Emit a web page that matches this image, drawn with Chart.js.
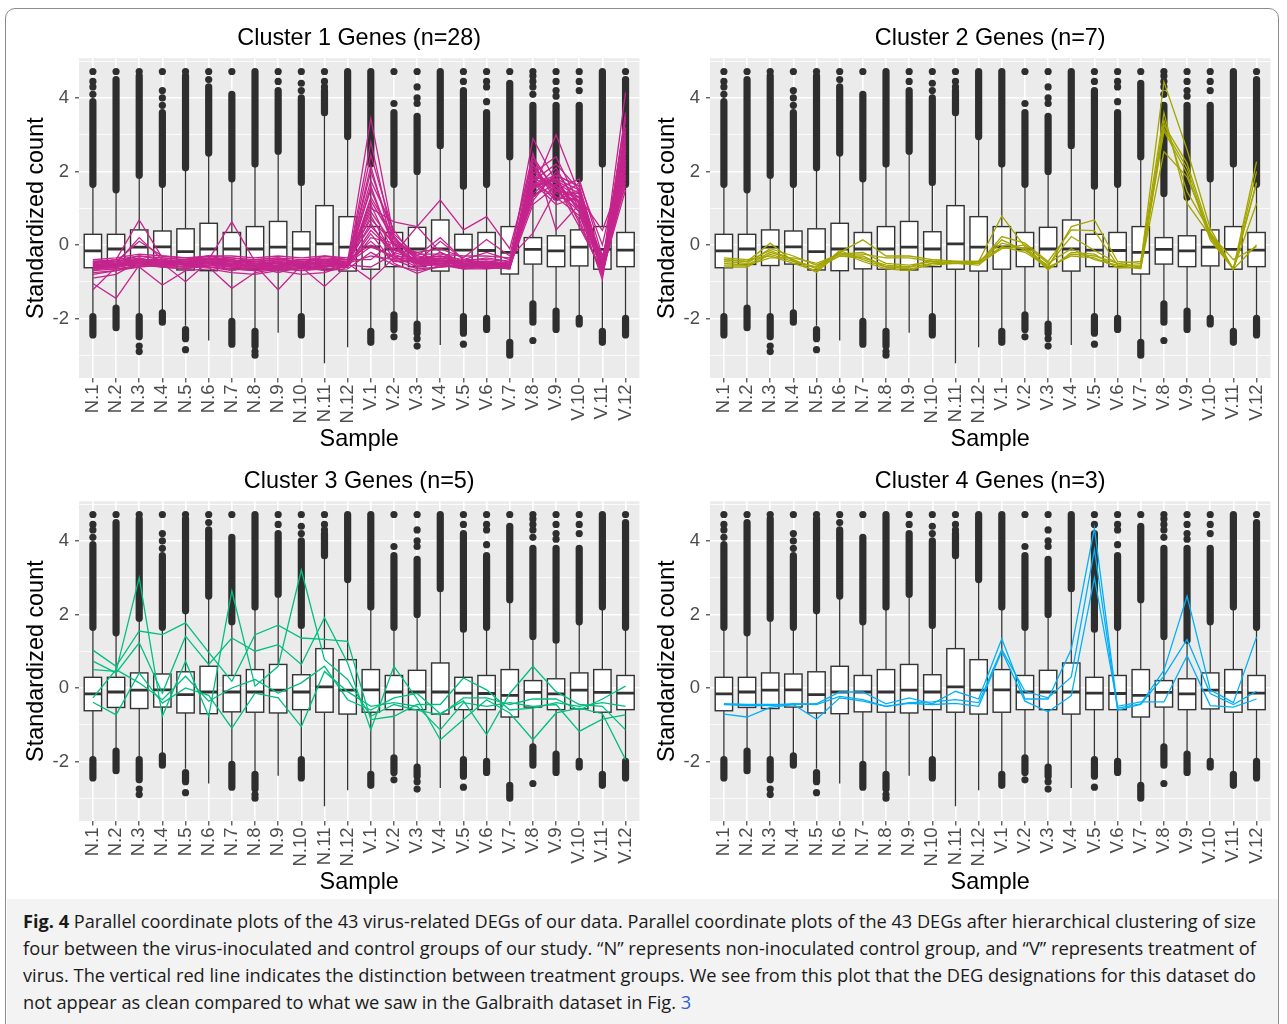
<!DOCTYPE html>
<html>
<head>
<meta charset="utf-8">
<script src="https://cdn.jsdelivr.net/npm/chart.js@4.4.1/dist/chart.umd.min.js"></script>
<style>
  html, body { margin: 0; padding: 0; background: #ffffff; }
  body { width: 1287px; height: 1024px; position: relative; overflow: hidden; }
  #frame { position: absolute; left: 5px; top: 8px; width: 1274px; height: 1100px;
           border: 1.5px solid #8c8c8c; border-radius: 10px; box-sizing: border-box; }
  #caption { position: absolute; left: 7px; top: 899px; width: 1271px; height: 130px; background: #f3f3f3; }
  .cap { position: absolute; left: 23px; white-space: nowrap; font-family: "Open Sans", sans-serif;
         font-size: 17.8px; line-height: 20px; color: #1a1a1a; transform-origin: 0 0; }
  .cap b { font-weight: 700; }
  .cap a { color: #2f5fd0; text-decoration: none; }
  canvas { position: absolute; }
</style>
</head>
<body>
<div id="frame"></div>
<div id="caption"></div>
<div class="cap" id="cap1" style="top:911.4px"><b>Fig. 4</b> Parallel coordinate plots of the 43 virus-related DEGs of our data. Parallel coordinate plots of the 43 DEGs after hierarchical clustering of size</div>
<div class="cap" id="cap2" style="top:938.1px">four between the virus-inoculated and control groups of our study. “N” represents non-inoculated control group, and “V” represents treatment of</div>
<div class="cap" id="cap3" style="top:964.8px">virus. The vertical red line indicates the distinction between treatment groups. We see from this plot that the DEG designations for this dataset do</div>
<div class="cap" id="cap4" style="top:991.5px">not appear as clean compared to what we saw in the Galbraith dataset in Fig. <a>3</a></div>

<script>
// ---- samples and axis breaks ----
const SAMPLES = ['N.1','N.2','N.3','N.4','N.5','N.6','N.7','N.8','N.9','N.10','N.11','N.12',
                 'V.1','V.2','V.3','V.4','V.5','V.6','V.7','V.8','V.9','V.10','V.11','V.12'];
const Y_BREAKS = [-3, -2, -1, 0, 1, 2, 3, 4, 5];   // even = labelled major, odd = minor
const Y_LIMITS = [-3.62, 5.08];

// ---- boxplot summaries of all genes per sample ----
const WHISKER_LOW  = [-1.90,-1.68,-1.90,-1.80,-2.20,-2.60,-2.05,-2.30,-2.39,-1.90,-3.22,-2.78,
                      -2.31,-1.86,-2.13,-2.72,-1.90,-1.95,-2.63,-1.55,-1.75,-1.95,-2.30,-1.95];
const Q1           = [-0.62,-0.53,-0.56,-0.52,-0.68,-0.70,-0.65,-0.66,-0.68,-0.59,-0.66,-0.71,
                      -0.66,-0.59,-0.59,-0.71,-0.59,-0.59,-0.79,-0.52,-0.59,-0.57,-0.66,-0.59];
const MEDIAN       = [-0.16,-0.11,-0.06,-0.05,-0.18,-0.11,-0.11,-0.11,-0.06,-0.11, 0.03,-0.06,
                      -0.05,-0.11,-0.11,-0.11,-0.14,-0.15,-0.20,-0.12,-0.16,-0.06,-0.12,-0.14];
const Q3           = [ 0.29, 0.29, 0.41, 0.38, 0.44, 0.59, 0.34, 0.50, 0.64, 0.36, 1.07, 0.77,
                       0.50, 0.34, 0.48, 0.68, 0.29, 0.34, 0.50, 0.20, 0.25, 0.41, 0.50, 0.34];
const WHISKER_HIGH = [ 1.59, 1.45, 1.86, 1.63, 2.09, 2.45, 1.77, 2.13, 2.54, 1.68, 3.54, 2.90,
                       2.18, 1.63, 2.00, 2.68, 1.54, 1.63, 2.36, 1.36, 1.27, 1.77, 2.13, 1.63];

// ---- outliers: densely packed runs and isolated points ----
const OUTLIER_HIGH_RUN = [[1.65,3.9],[1.5,4.5],[1.9,4.6],[1.65,3.6],[2.1,4.6],[2.5,4.3],[1.8,4.1],[2.2,4.72],
                          [2.55,4.2],[1.7,4.0],[3.6,4.2],[2.95,4.72],[2.2,4.72],[1.65,3.6],[2.0,3.5],[2.7,4.72],
                          [1.6,4.2],[1.65,3.6],[2.4,4.4],[1.4,3.8],[1.3,3.8],[1.8,3.8],[2.2,4.72],[1.65,4.5]];
const OUTLIER_HIGH_PTS = [[4.1,4.3,4.45,4.72],[4.72],[4.72],[3.8,4.0,4.2,4.72],[4.72],[4.5,4.72],[4.72],[],
                          [4.45,4.72],[4.2,4.4,4.72],[4.3,4.45,4.72],[],[],[3.85,4.72],[3.85,4.0,4.3,4.72],[],
                          [4.45,4.72],[3.9,4.3,4.45,4.72],[4.72],[4.1,4.3,4.45,4.6,4.72],[4.05,4.2,4.45,4.72],[4.2,4.45,4.72],[],[4.72]];
const OUTLIER_LOW_RUN  = [[-1.95,-2.45],[-1.72,-2.25],[-1.95,-2.5],[-1.85,-2.1],[-2.3,-2.55],null,[-2.08,-2.7],[-2.35,-2.75],
                          null,[-1.95,-2.45],null,null,[-2.35,-2.65],[-1.9,-2.3],[-2.15,-2.4],null,
                          [-1.95,-2.4],[-2.0,-2.3],[-2.65,-3.0],[-1.6,-2.1],[-1.8,-2.3],[-2.0,-2.15],[-2.35,-2.65],[-2.0,-2.45]];
const OUTLIER_LOW_PTS  = [[],[],[-2.75,-2.9],[],[-2.85],[],[],[-2.9,-3.0],
                          [],[],[],[],[],[-2.5],[-2.55,-2.75],[],
                          [-2.7],[],[],[-2.6],[],[],[],[]];

// ---- standardized counts of the clustered genes (N.1 ... N.12, V.1 ... V.12) ----
const CLUSTER1_GENES = [
  [-0.55,-0.50,-0.40,-0.45,-0.50,-0.40,-0.55,-0.60,-0.50,-0.55,-0.50,-0.45,  3.45, 0.20,-0.40,-0.30,-0.50,-0.50,-0.55, 1.80, 1.60, 1.20,-0.60, 4.15],
  [-0.60,-0.55,-0.45,-0.40,-0.55,-0.45,-0.50,-0.55,-0.60,-0.50,-0.55,-0.50,  2.45, 0.30,-0.30,-0.40,-0.45,-0.55,-0.50, 2.90, 1.70, 1.00,-0.70, 3.60],
  [-0.50,-0.45,-0.35,-0.50,-0.45,-0.35,-0.40,-0.50,-0.45,-0.60,-0.40,-0.55,  2.15,-0.10,-0.50,-0.20,-0.55,-0.45,-0.60, 1.50, 3.00, 1.40,-0.50, 3.40],
  [-0.65,-0.60,-0.50,-0.55,-0.60,-0.50,-0.60,-0.65,-0.55,-0.45,-0.60,-0.50,  1.75, 0.40,-0.45, 0.10,-0.40,-0.50,-0.55, 2.20, 1.20, 1.50,-0.80, 2.90],
  [-0.45,-0.40, 0.68,-0.35,-0.40,-0.30,-0.45,-0.40,-0.35,-0.40,-0.35,-0.40,  1.50, 0.00,-0.20,-0.45,-0.50,-0.60,-0.50, 1.95, 2.40, 1.10,-0.40, 2.60],
  [-0.70,-0.65,-0.55,-0.60,-0.65,-0.55,-0.65,-0.70,-0.65,-0.55,-0.65,-0.60,  1.30, 0.25,-0.55,-0.55,-0.60,-0.55,-0.65, 1.60, 1.80, 0.90,-0.95, 3.10],
  [-0.40,-0.45, 0.10,-0.30,-0.35,-0.40, 0.63,-0.45,-0.40,-0.45,-0.40,-0.45,  1.00, 0.63, 0.50, 1.22, 0.41, 0.77,-0.10, 2.30, 1.50, 1.30, 0.40, 2.10],
  [-0.80,-0.70,-0.60,-1.09,-0.70,-0.65,-0.75,-0.80,-0.70,-0.80,-0.75,-0.55,  0.80,-0.30,-0.60,-0.50,-0.65,-0.65,-0.55, 1.40, 1.90, 1.60,-0.55, 1.80],
  [-1.22,-0.60,-0.50,-0.50,-1.00,-0.45,-0.55,-0.50,-0.60,-0.65,-0.60,-0.50,  0.60,-0.40,-0.65,-0.60,-0.55,-0.50,-0.60, 1.70, 1.30, 0.80,-0.65, 2.30],
  [-1.05,-1.45,-0.55,-0.45,-0.55,-0.50,-0.60,-0.65,-0.55,-0.60,-1.13,-0.55,  0.40,-0.20,-0.40,-0.35,-0.45,-0.45,-0.50, 1.20, 2.00, 1.10,-0.45, 2.70],
  [-0.90,-0.80,-0.45,-0.60,-0.50,-0.60,-1.18,-0.75,-0.65,-0.70,-0.65,-0.60,  0.20, 0.05,-0.55,-0.45,-0.50,-0.60,-0.45, 1.90, 1.60, 0.70,-0.85, 1.90],
  [-0.55,-0.60,-0.50,-0.55,-0.60,-0.55,-0.50,-0.55,-1.22,-0.55,-0.50,-0.45,  0.10,-0.45,-0.45,-0.55,-0.60,-0.55,-0.55, 2.10, 1.40, 1.20,-0.60, 3.20],
  [-0.60,-0.55,-0.40,-0.45,-0.40,-0.35,-0.45,-0.60,-0.55,-0.50,-0.45,-0.50, -0.05,-0.30,-0.35,-0.30,-0.40,-0.40,-0.45, 1.60, 1.75, 1.40,-0.50, 2.50],
  [-0.75,-0.70,-0.55,-0.50,-0.55,-0.60,-0.70,-0.60,-0.75,-0.60,-0.70,-0.65, -0.20,-0.55,-0.70,-0.60,-0.55,-0.65,-0.60, 1.30, 1.90, 0.60,-0.75, 1.70],
  [-0.50,-0.45,-0.30,-0.40,-0.45,-0.40,-0.35,-0.45,-0.50,-0.40,-0.40,-0.40, -0.40, 0.10,-0.30, 0.20,-0.40,-0.20,-0.40, 1.80, 1.20, 1.70, 0.00, 2.80],
  [-0.65,-0.60,-0.45,-0.55,-0.50,-0.50,-0.55,-0.70,-0.60,-0.65,-0.55,-0.55, -0.60,-0.25,-0.50,-0.50,-0.65,-0.55,-0.60, 1.10, 1.60, 1.00,-0.60, 2.20],
  [-0.55,-0.50, 0.20,-0.40,-0.50,-0.45,-0.40,-0.55,-0.45,-0.55,-0.45,-0.50, -0.95,-0.35,-0.40,-0.45,-0.50,-0.50,-0.50, 1.70, 1.10, 1.30,-0.70, 2.40],
  [-0.45,-0.55,-0.35,-0.50,-0.45,-0.50,-0.50,-0.45,-0.40,-0.45,-0.50,-0.45,  0.90, 0.00,-0.60,-0.40,-0.50,-0.55,-0.55, 2.00, 1.50, 0.90,-0.55, 2.00],
  [-0.60,-0.55,-0.50,-0.60,-0.65,-0.55,-0.60,-0.60,-0.65,-0.55,-0.60,-0.50,  1.20, 0.15,-0.40,-0.50,-0.55,-0.60,-0.65, 1.55, 1.80, 1.50,-0.65, 3.00],
  [-0.50,-0.40,-0.30,-0.35,-0.40,-0.30,-0.35,-0.40,-0.35,-0.50,-0.30,-0.40,  0.50,-0.15,-0.20,-0.10,-0.35, 0.15,-0.30, 2.50, 0.41, 1.10,-0.30, 1.60],
  [-0.70,-0.55,-0.45,-0.50,-0.55,-0.45,-0.50,-0.60,-0.55,-0.60,-0.55,-0.60,  1.60,-0.10,-0.50,-0.55,-0.60,-0.55,-0.55, 1.85, 1.70, 1.30,-0.55, 2.60],
  [-0.55,-0.50,-0.45,-0.45,-0.50,-0.45,-0.45,-0.50,-0.50,-0.45,-0.50,-0.50,  2.00, 0.20,-0.35,-0.45,-0.50,-0.45,-0.50, 1.50, 2.10, 1.00,-0.45, 2.30],
  [-0.40,-0.35,-0.25,-0.30,-0.35,-0.30,-0.30,-0.35,-0.30,-0.35,-0.30,-0.35,  0.70, 0.05,-0.25,-0.25,-0.30,-0.30,-0.35, 0.32, 1.50, 1.80,-0.30, 1.90],
  [-0.65,-0.65,-0.60,-0.55,-0.60,-0.60,-0.65,-0.70,-0.60,-0.70,-0.60,-0.55,  0.30,-0.50,-0.77,-0.55,-0.65,-0.60,-0.65, 2.20, 1.30, 1.20,-0.80, 2.10],
  [-0.50,-0.45,-0.40,-0.40,-0.45,-0.40,-0.40,-0.50,-0.45,-0.50,-0.45,-0.45,  1.10,-0.25, 0.50,-0.20,-0.45,-0.35,-0.45, 1.65, 1.90, 1.60,-0.50, 2.70],
  [-0.60,-0.60,-0.50,-0.45,-0.55,-0.50,-0.55,-0.55,-0.60,-0.50,-0.55,-0.50,  2.80, 0.00,-0.45,-0.40,-0.55,-0.50,-0.55, 2.40, 1.45, 1.40,-0.60, 3.50],
  [-0.45,-0.50,-0.40,-0.45,-0.40,-0.45,-0.45,-0.45,-0.40,-0.45,-0.40,-0.40,  0.00,-0.35,-0.50,-0.35,-0.45,-0.45,-0.50, 1.75, 2.20, 1.50,-0.40, 2.20],
  [-0.55,-0.55,-0.45,-0.50,-0.50,-0.50,-0.55,-0.55,-0.50,-0.55,-0.50,-0.50, -0.30,-0.40,-0.45,-0.50,-0.50,-0.55,-0.55, 1.35, 1.65, 0.50,-0.70, 1.50]
];
const CLUSTER2_GENES = [
  [-0.40,-0.45, 0.05,-0.45,-0.60,-0.20, 0.14,-0.30,-0.30,-0.40,-0.45,-0.45,  0.79,-0.05,-0.60, 0.50, 0.68,-0.45,-0.50, 4.44, 2.59, 0.45,-0.66, 2.27],
  [-0.45,-0.50,-0.10,-0.30,-0.55,-0.25,-0.20,-0.50,-0.55,-0.45,-0.50,-0.50,  0.23, 0.05,-0.45, 0.41, 0.39,-0.55,-0.55, 3.27, 2.22, 0.30,-0.66, 1.68],
  [-0.55,-0.55,-0.20,-0.40,-0.65,-0.30,-0.35,-0.55,-0.60,-0.50,-0.45,-0.50,  0.14,-0.15,-0.55, 0.23,-0.15,-0.50,-0.60, 3.17, 2.09, 0.20,-0.66, 1.13],
  [-0.35,-0.40,-0.30,-0.50,-0.70,-0.15,-0.40,-0.60,-0.60,-0.40,-0.45,-0.45,  0.05,-0.10,-0.68,-0.20,-0.25,-0.63,-0.60, 3.10, 1.95, 0.14,-0.66, 0.00],
  [-0.60,-0.60,-0.25,-0.45,-0.60,-0.30,-0.30,-0.60,-0.65,-0.55,-0.50,-0.55, -0.05,-0.20,-0.60,-0.30,-0.35,-0.60,-0.63, 2.54, 1.85, 0.30,-0.40,-0.05],
  [-0.40,-0.45,-0.15,-0.40,-0.75,-0.20,-0.45,-0.65,-0.70,-0.50,-0.50,-0.50, -0.10, 0.00,-0.50,-0.10,-0.40,-0.55,-0.65, 3.40, 1.45, 0.35,-0.66, 1.70],
  [-0.50,-0.55,-0.35,-0.35,-0.50,-0.25,-0.25,-0.35,-0.35,-0.45,-0.50,-0.45, -0.05,-0.10,-0.65,-0.25,-0.30,-0.50,-0.45, 3.60, 1.13, 0.25,-0.66, 2.00]
];
const CLUSTER3_GENES = [
  [ 1.03, 0.59, 1.55, 1.45, 1.77, 0.97, 0.18, 1.45, 1.71, 1.36, 1.32, 1.27, -0.86,-0.77,-0.45,-0.45, 0.27,-0.05,-0.60,-0.55,-0.40,-0.50,-0.40,-0.50],
  [ 0.73, 0.41, 1.23,-0.14, 1.41, 0.64, 1.36, 1.00, 1.18, 0.64, 1.91, 0.68, -1.14, 0.59,-0.30,-1.41,-0.86,-0.32,-0.68,-1.41,-0.68,-0.55,-0.70,-1.95],
  [ 0.50, 0.45, 3.00,-0.77, 0.73,-0.77, 2.64, 0.05, 0.59, 3.21, 0.77, 0.23, -0.77,-0.45,-0.60,-0.73,-0.27,-0.27,-0.45,-0.30,-0.30,-0.60,-0.30, 0.05],
  [-0.27, 0.50, 0.14,-0.32, 0.32,-0.36, 0.00, 0.23,-0.14, 0.14, 0.59,-0.32, -0.60,-0.27,-0.15,-0.70,-0.35,-1.27,-0.15, 0.59,-0.10,-0.45,-0.50,-1.14],
  [-0.39,-0.73, 0.41,-0.41, 0.00,-0.20,-1.09,-0.14,-0.27,-1.05, 0.45,-0.10, -0.50,-0.40,-0.50,-1.14,-0.40,-0.50,-0.40,-0.50,-0.45,-1.18,-0.85,-0.73]
];
const CLUSTER4_GENES = [
  [-0.43,-0.45,-0.45,-0.45,-0.43,-0.11,-0.11,-0.43,-0.27,-0.43,-0.09,-0.30,  1.34,-0.30,-0.30, 1.05, 4.35,-0.55,-0.43, 0.48, 2.50,-0.05,-0.40, 1.39],
  [-0.45,-0.48,-0.48,-0.43,-0.45,-0.23,-0.32,-0.50,-0.40,-0.38,-0.32,-0.40,  1.05,-0.09,-0.27, 0.30, 3.77,-0.60,-0.45, 0.32, 1.32,-0.15,-0.45,-0.09],
  [-0.71,-0.79,-0.53,-0.45,-0.85,-0.27,-0.36,-0.50,-0.42,-0.45,-0.42,-0.50,  1.00,-0.36,-0.65,-0.21, 3.00,-0.50,-0.38,-0.38, 0.88,-0.48,-0.52,-0.30]
];

const PANELS = [
  { title: 'Cluster 1 Genes (n=28)', color: '#c4248c', genes: CLUSTER1_GENES, left: 10,  top: 12 },
  { title: 'Cluster 2 Genes (n=7)',  color: '#a3a500', genes: CLUSTER2_GENES, left: 641, top: 12 },
  { title: 'Cluster 3 Genes (n=5)',  color: '#00bf7d', genes: CLUSTER3_GENES, left: 10,  top: 455.4 },
  { title: 'Cluster 4 Genes (n=3)',  color: '#00b0f6', genes: CLUSTER4_GENES, left: 641, top: 455.4 }
];

const FONT = "'Liberation Sans', Arial, Helvetica, sans-serif";
const INK = '#333333';

// grey panel background, then the per-sample boxplots underneath the gene lines
const boxplotLayer = {
  id: 'boxplotLayer',
  beforeDraw(chart) {
    const { ctx, chartArea: a } = chart;
    ctx.save();
    ctx.fillStyle = '#ebebeb';
    ctx.fillRect(a.left, a.top, a.right - a.left, a.bottom - a.top);
    ctx.restore();
  },
  beforeDatasetsDraw(chart) {
    const { ctx, chartArea: a } = chart;
    const xs = chart.scales.x, ys = chart.scales.y;
    const half = (xs.getPixelForValue(1) - xs.getPixelForValue(0)) * 0.375;
    const r = 3.6;
    ctx.save();
    ctx.beginPath();
    ctx.rect(a.left, a.top, a.right - a.left, a.bottom - a.top);
    ctx.clip();
    SAMPLES.forEach((s, i) => {
      const cx = xs.getPixelForValue(i);
      const yLo = ys.getPixelForValue(WHISKER_LOW[i]);
      const yQ1 = ys.getPixelForValue(Q1[i]);
      const yMed = ys.getPixelForValue(MEDIAN[i]);
      const yQ3 = ys.getPixelForValue(Q3[i]);
      const yHi = ys.getPixelForValue(WHISKER_HIGH[i]);
      // whiskers
      ctx.strokeStyle = INK;
      ctx.lineWidth = 1.3;
      ctx.beginPath();
      ctx.moveTo(cx, yHi); ctx.lineTo(cx, yQ3);
      ctx.moveTo(cx, yQ1); ctx.lineTo(cx, yLo);
      ctx.stroke();
      // box
      ctx.fillStyle = '#ffffff';
      ctx.fillRect(cx - half, yQ3, half * 2, yQ1 - yQ3);
      ctx.lineWidth = 1.4;
      ctx.strokeRect(cx - half, yQ3, half * 2, yQ1 - yQ3);
      // median
      ctx.lineWidth = 2.8;
      ctx.beginPath();
      ctx.moveTo(cx - half, yMed); ctx.lineTo(cx + half, yMed);
      ctx.stroke();
      // outliers
      ctx.fillStyle = '#2e2e2e';
      [OUTLIER_HIGH_RUN[i], OUTLIER_LOW_RUN[i]].forEach(run => {
        if (!run) return;
        const y1 = ys.getPixelForValue(Math.max(run[0], run[1]));
        const y2 = ys.getPixelForValue(Math.min(run[0], run[1]));
        ctx.beginPath();
        ctx.arc(cx, y1, r, Math.PI, 0);
        ctx.lineTo(cx + r, y2);
        ctx.arc(cx, y2, r, 0, Math.PI);
        ctx.closePath();
        ctx.fill();
      });
      OUTLIER_HIGH_PTS[i].concat(OUTLIER_LOW_PTS[i]).forEach(v => {
        ctx.beginPath();
        ctx.arc(cx, ys.getPixelForValue(v), r, 0, Math.PI * 2);
        ctx.fill();
      });
    });
    ctx.restore();
  }
};

function makePanel(p, idx) {
  const canvas = document.createElement('canvas');
  canvas.width = 640; canvas.height = 455;
  canvas.style.left = p.left + 'px';
  canvas.style.top = p.top + 'px';
  canvas.style.width = '640px'; canvas.style.height = '455px';
  document.body.appendChild(canvas);

  const datasets = p.genes.map(g => ({
    data: g.map((v, i) => ({ x: i, y: v })),
    borderColor: p.color,
    borderWidth: 1.3,
    pointRadius: 0,
    fill: false,
    tension: 0
  }));

  new Chart(canvas, {
    type: 'line',
    data: { datasets },
    options: {
      responsive: false,
      animation: false,
      devicePixelRatio: 1,
      layout: { padding: { left: 0, right: 10, top: 0, bottom: 0 } },
      plugins: {
        legend: { display: false },
        tooltip: { enabled: false },
        title: {
          display: true, text: p.title, color: '#000000', fullSize: false,
          font: { family: FONT, size: 23.4, weight: 'normal', lineHeight: 1.2 },
          padding: { top: 13, bottom: 5.2 }
        }
      },
      scales: {
        x: {
          type: 'linear', min: -0.6, max: 23.6,
          afterBuildTicks: s => { s.ticks = SAMPLES.map((_, i) => ({ value: i })); },
          afterFit: s => { s.height = 89; },
          border: { display: false },
          grid: { color: '#ffffff', lineWidth: 1.6, tickLength: 4.5, tickColor: INK, tickWidth: 1.1 },
          ticks: {
            autoSkip: false, minRotation: 90, maxRotation: 90, padding: 2,
            color: '#4d4d4d', font: { family: FONT, size: 18.5 },
            callback: v => SAMPLES[Math.round(v)]
          },
          title: {
            display: true, text: 'Sample', color: '#000000',
            font: { family: FONT, size: 23.4, lineHeight: 1.2 },
            padding: { top: 0, bottom: 13 }
          }
        },
        y: {
          min: Y_LIMITS[0], max: Y_LIMITS[1],
          afterBuildTicks: s => { s.ticks = Y_BREAKS.map(v => ({ value: v })); },
          afterFit: s => { s.width = 69; },
          border: { display: false },
          grid: {
            color: '#ffffff',
            lineWidth: c => (c.tick && c.tick.value % 2 === 0) ? 1.6 : 0.8,
            tickLength: 4,
            tickWidth: 1.1,
            tickColor: c => (c.tick && c.tick.value % 2 === 0) ? INK : 'rgba(0,0,0,0)'
          },
          ticks: {
            padding: 6, color: '#4d4d4d', font: { family: FONT, size: 18.5 },
            callback: v => (v % 2 === 0) ? String(v) : ''
          },
          title: {
            display: true, text: 'Standardized count', color: '#000000',
            font: { family: FONT, size: 23.4, lineHeight: 1.2 },
            padding: { top: 13, bottom: 0 }
          }
        }
      }
    },
    plugins: [boxplotLayer]
  });
}

PANELS.forEach(makePanel);

// fit the condensed caption lines to the text block width
function fitCaption() {
  const target = 1233;
  const factors = [];
  ['cap1', 'cap2', 'cap3'].forEach(id => {
    const el = document.getElementById(id);
    el.style.transform = 'none';
    const w = el.getBoundingClientRect().width;
    const f = target / w;
    factors.push(f);
    el.style.transform = 'scaleX(' + f + ')';
  });
  const avg = factors.reduce((a, b) => a + b, 0) / factors.length;
  document.getElementById('cap4').style.transform = 'scaleX(' + avg + ')';
}
fitCaption();
if (document.fonts && document.fonts.ready) document.fonts.ready.then(fitCaption);
</script>
</body>
</html>
